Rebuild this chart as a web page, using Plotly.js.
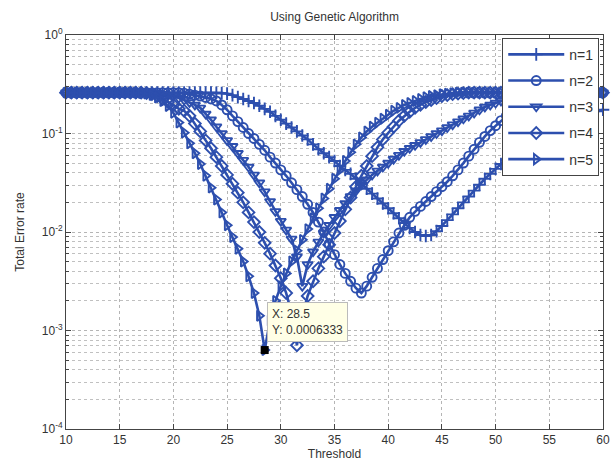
<!DOCTYPE html>
<html>
<head>
<meta charset="utf-8">
<script src="https://cdn.plot.ly/plotly-3.0.1.min.js"></script>
<style>html,body{margin:0;padding:0;background:#fff;}#chart{width:615px;height:461px;}</style>
</head>
<body>
<div id="chart"></div>
<script>
const threshold = [10,10.5,11,11.5,12,12.5,13,13.5,14,14.5,15,15.5,16,16.5,17,17.5,18,18.5,19,19.5,20,20.5,21,21.5,22,22.5,23,23.5,24,24.5,25,25.5,26,26.5,27,27.5,28,28.5,29,29.5,30,30.5,31,31.5,32,32.5,33,33.5,34,34.5,35,35.5,36,36.5,37,37.5,38,38.5,39,39.5,40,40.5,41,41.5,42,42.5,43,43.5,44,44.5,45,45.5,46,46.5,47,47.5,48,48.5,49,49.5,50,50.5,51,51.5,52,52.5,53,53.5,54,54.5,55,55.5,56,56.5,57,57.5,58,58.5,59,59.5,60];

const n1 = [0.26,0.26,0.26,0.26,0.26,0.26,0.26,0.26,0.26,0.26,0.26,0.26,0.26,0.26,0.26,0.26,0.26,0.26,0.26,0.26,0.26,0.26,0.26,0.26,0.26,0.26,0.26,0.26,
0.259,0.257,0.254,0.245,0.234,0.224,0.214,0.204,0.191,0.178,0.166,0.151,0.138,0.126,0.115,0.105,0.0955,0.0871,0.0776,0.0692,0.0631,0.0575,0.0525,0.0468,0.0427,0.0389,0.0347,0.0309,0.0275,0.0245,0.0219,0.0195,0.0174,0.0155,0.0138,0.0123,0.011,0.01,0.00933,0.00912,0.00933,0.0102,0.0115,0.0132,0.0151,0.0174,0.02,0.0229,0.0263,0.0302,0.0347,0.0389,0.0437,0.049,0.0537,0.0589,0.0646,0.0708,0.0776,0.0851,0.0912,0.0977,0.105,0.112,0.12,0.126,0.132,0.141,0.148,0.155,0.162,0.168,0.174];

const n2 = [0.26,0.26,0.26,0.26,0.26,0.26,0.26,0.26,0.26,0.26,0.26,0.26,0.26,0.26,0.26,0.26,0.26,0.26,0.26,0.26,0.26,0.26,
0.257,0.251,0.245,0.24,0.232,0.224,0.214,0.195,0.174,0.151,0.132,0.115,0.1,0.0891,0.0776,0.0676,0.0575,0.0501,0.0427,0.0372,0.0316,0.0269,0.0229,0.0191,0.0158,0.0126,0.01,0.00759,0.00589,0.00468,0.0038,0.00316,0.00269,0.0024,0.00282,0.00347,0.00427,0.00525,0.00646,0.00794,0.00977,0.0117,0.0141,0.0162,0.0182,0.0204,0.0229,0.0257,0.0288,0.0324,0.0372,0.0427,0.0501,0.0589,0.0692,0.0813,0.0933,0.107,0.12,0.135,0.151,0.166,0.182,0.195,0.209,0.219,0.229,0.24,0.245,0.251,0.254,0.257,
0.26,0.26,0.26,0.26,0.26,0.26,0.26];

const n3 = [0.26,0.26,0.26,0.26,0.26,0.26,0.26,0.26,0.26,0.26,0.26,0.26,0.26,0.26,0.26,0.26,
0.26,0.257,0.251,0.245,0.24,0.229,0.219,0.207,0.195,0.182,0.158,0.138,0.117,0.1,0.0851,0.0741,0.0631,0.0537,0.0457,0.038,0.0316,0.0257,0.0204,0.0162,0.0129,0.0105,0.00851,0.00562,0.00282,0.00468,0.00631,0.00794,0.00977,0.0117,0.0141,0.0166,0.0195,0.0229,0.0263,0.0302,0.0339,0.038,0.0417,0.0457,0.0501,0.055,0.0603,0.0661,0.0708,0.0759,0.0813,0.0871,0.0933,0.1,0.107,0.115,0.123,0.132,0.141,0.151,0.162,0.174,0.186,0.195,0.204,0.214,0.224,0.232,0.24,0.245,0.251,0.254,0.257,
0.26,0.26,0.26,0.26,0.26,0.26,0.26,0.26,0.26,0.26,0.26,0.26];

const n4 = [0.26,0.26,0.26,0.26,0.26,0.26,0.26,0.26,0.26,0.26,0.26,0.26,0.26,0.26,
0.26,0.257,0.251,0.24,0.224,0.209,0.195,0.178,0.17,0.151,0.126,0.105,0.0851,0.0708,0.0575,0.0468,0.038,0.0309,0.0251,0.02,0.0158,0.0126,0.01,0.00776,0.00603,0.00457,0.00339,0.0024,0.00151,0.000708,0.00141,0.00224,0.00316,0.00427,0.00562,0.00741,0.00977,0.0129,0.017,0.0224,0.0288,0.0372,0.0468,0.0589,0.0724,0.0871,0.102,0.117,0.135,0.151,0.166,0.182,0.195,0.209,0.219,0.229,0.24,0.245,0.251,0.254,0.257,
0.26,0.26,0.26,0.26,0.26,0.26,0.26,0.26,0.26,0.26,0.26,0.26,0.26,0.26,0.26,0.26,0.26,0.26,0.26,0.26,0.26,0.26,0.26,0.26,0.26,0.26];

const n5 = [0.26,0.26,0.26,0.26,0.26,0.26,0.26,0.26,0.26,0.26,0.26,0.26,0.26,0.26,
0.257,0.254,0.245,0.232,0.214,0.19,0.162,0.129,0.102,0.0794,0.0631,0.049,0.0372,0.0282,0.0214,0.0158,0.0117,0.00891,0.00676,0.00501,0.00355,0.0024,0.00141,0.0006333,0.00126,0.002,0.00282,0.0038,0.00501,0.00646,0.00832,0.0107,0.0138,0.0174,0.0219,0.0275,0.0347,0.0427,0.0525,0.0646,0.0776,0.0912,0.105,0.117,0.129,0.141,0.155,0.17,0.182,0.195,0.204,0.214,0.224,0.234,0.24,0.245,0.251,0.254,0.257,
0.26,0.26,0.26,0.26,0.26,0.26,0.26,0.26,0.26,0.26,0.26,0.26,0.26,0.26,0.26,0.26,0.26,0.26,0.26,0.26,0.26,0.26,0.26,0.26,0.26,0.26,0.26,0.26];

const seriesNames = ['n=1','n=2','n=3','n=4','n=5'];
const seriesData = [n1, n2, n3, n4, n5];
const seriesSymbols = ['cross-thin-open','circle-open','triangle-down-open','diamond-open','triangle-right-open'];
const yTickVals = [1e-4, 1e-3, 1e-2, 1e-1, 1];
const yTickText = ['10<sup>-4</sup>','10<sup>-3</sup>','10<sup>-2</sup>','10<sup>-1</sup>','10<sup>0</sup>'];

const blue = '#2d4fae';
const traces = seriesData.map((d, i) => ({
  x: threshold, y: d, name: seriesNames[i], type: 'scatter', mode: 'lines+markers',
  legendgroup: 'g' + i, cliponaxis: false,
  line: {color: blue, width: 2.6},
  marker: {symbol: seriesSymbols[i], size: 9, color: blue, line: {color: blue, width: 1.9}}
}));

// data tip on n=5 minimum
let tipIdx = 0;
n5.forEach((v, i) => { if (v < n5[tipIdx]) tipIdx = i; });
const tipX = threshold[tipIdx], tipY = n5[tipIdx];
traces.push({x: [tipX], y: [tipY], type: 'scatter', mode: 'markers', showlegend: false,
  marker: {symbol: 'square', size: 8, color: '#000'}});

const minorVals = [];
[1e-4, 1e-3, 1e-2, 1e-1].forEach(dec => { for (let k = 2; k <= 9; k++) minorVals.push(k * dec); });

const font = {family: 'Liberation Sans, Arial, sans-serif', color: '#333', size: 12};
const layout = {
  width: 615, height: 461,
  margin: {l: 66, r: 12, t: 35, b: 32},
  paper_bgcolor: '#fff', plot_bgcolor: '#fff',
  font: font,
  showlegend: true,
  title: {text: 'Using Genetic Algorithm', x: 0.544, xanchor: 'center', y: 0.963, yanchor: 'middle',
    font: {family: font.family, size: 12, color: '#333'}},
  xaxis: {
    range: [10, 60], tick0: 10, dtick: 5, ticks: 'inside', ticklen: 5, tickcolor: '#444',
    showline: true, linecolor: '#444', linewidth: 1, mirror: 'ticks', zeroline: false,
    showgrid: true, gridcolor: '#b5b5b5', griddash: 'dot', gridwidth: 1,
    automargin: false, tickfont: {size: 12, color: '#333'},
    title: {text: 'Threshold', standoff: 4, font: {size: 12, color: '#333'}}
  },
  yaxis: {
    type: 'log', range: [-4, 0], tickmode: 'array', tickvals: yTickVals, ticktext: yTickText,
    ticks: 'inside', ticklen: 5, tickcolor: '#444',
    showline: true, linecolor: '#444', linewidth: 1, mirror: 'ticks', zeroline: false,
    showgrid: true, gridcolor: '#b5b5b5', griddash: 'dot', gridwidth: 1,
    minor: {tickmode: 'array', tickvals: minorVals, ticks: 'inside', ticklen: 3, tickcolor: '#444',
      showgrid: true, gridcolor: '#c0c0c0', griddash: 'dot', gridwidth: 1},
    automargin: false, tickfont: {size: 12, color: '#333'},
    title: {text: 'Total Error rate', standoff: 14, font: {size: 12, color: '#333'}}
  },
  legend: {
    x: 0.993, y: 0.993, xanchor: 'right', yanchor: 'top',
    bgcolor: '#fff', bordercolor: '#444', borderwidth: 1,
    font: {size: 14, color: '#333'}, itemwidth: 56, tracegroupgap: 5
  },
  annotations: [{
    x: tipX, y: Math.log10(tipY), xref: 'x', yref: 'y', showarrow: false,
    xanchor: 'left', yanchor: 'bottom', xshift: 2, yshift: 8,
    text: 'X: ' + tipX + '<br>Y: ' + tipY, align: 'left',
    font: {size: 12, color: '#333'}, bgcolor: '#ffffe6', bordercolor: '#bbb', borderwidth: 1, borderpad: 4
  }]
};

Plotly.newPlot('chart', traces, layout, {displayModeBar: false, staticPlot: true});
</script>
</body>
</html>
